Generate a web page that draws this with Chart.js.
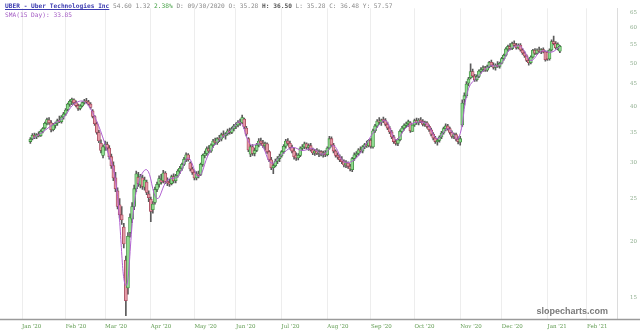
<!DOCTYPE html>
<html>
<head>
<meta charset="utf-8">
<script src="https://cdn.jsdelivr.net/npm/chart.js@4.4.1/dist/chart.umd.min.js"></script>
<style>
  html, body { margin: 0; padding: 0; background: #fff; }
  #wrap { position: relative; width: 640px; height: 334px; }
  #hdr { position: absolute; left: 5px; top: 1px; font: 6.2px "DejaVu Sans Mono", monospace; color: #8a8a8a; line-height: 9px; white-space: pre; }
  #hdr .sym { color: #3b3bb0; font-weight: bold; text-decoration: underline; }
  #hdr .up { color: #44a044; }
  #hdr b { color: #555; }
  #hdr .sma { color: #a45cc4; }
  #mark { position: absolute; right: 32px; top: 306px; font: bold 9px "Liberation Sans", sans-serif; color: #7a7a7a; }
</style>
</head>
<body>
<div id="wrap">
  <canvas id="c" width="640" height="334"></canvas>
  <div id="hdr"><span class="sym">UBER - Uber Technologies Inc</span> 54.60 1.32 <span class="up">2.38%</span> D: 09/30/2020 O: 35.28 <b>H: 36.50</b> L: 35.28 C: 36.48 Y: 57.57
<span class="sma">SMA(15 Day): 33.85</span></div>
  <div id="mark">slopecharts.com</div>
</div>
<script>
// trading calendar: Jan 2 2020 .. Feb 22 2021
const holidays = ['2020-01-20','2020-02-17','2020-04-10','2020-05-25','2020-07-03','2020-09-07',
  '2020-11-26','2020-12-25','2021-01-01','2021-01-18','2021-02-15'];
const firstDay = '2020-01-02', lastDay = '2021-02-22';
const firstBar = '2020-01-08';   // first candle on the chart
const monthNames = ['Jan','Feb','Mar','Apr','May','Jun','Jul','Aug','Sep','Oct','Nov','Dec'];
const yTicks = [15, 20, 25, 30, 35, 40, 45, 50, 55, 60, 65];

// daily OHLC, one row per month (Jan 8 2020 .. Jan 12 2021)
const opens = [
  33.5,34.0,34.6,34.3,34.7,34.5,35.3,35.9,36.8,37.4,36.9,35.6,36.4,36.8,37.3,37.1,38.0,
  38.6,39.5,40.6,41.2,41.5,40.9,40.3,39.7,40.2,40.9,41.3,41.1,40.6,39.2,38.1,36.7,35.1,33.2,31.2,
  32.6,33.0,32.4,31.0,29.6,27.8,26.0,24.2,23.0,21.6,18.2,15.8,21.0,22.5,24.0,26.3,27.9,26.8,27.8,26.5,27.2,25.6,
  24.9,23.6,24.5,26.2,26.9,27.5,27.4,28.5,27.3,27.1,27.0,28.0,27.4,28.1,28.8,29.2,29.8,30.6,31.3,30.0,29.1,
  28.6,27.8,28.4,28.3,29.8,31.2,31.5,32.3,31.9,32.9,33.6,33.3,34.0,33.9,34.7,34.5,34.9,35.4,35.1,35.8,
  36.3,36.5,37.0,36.9,37.6,35.9,34.0,31.4,32.6,31.5,32.0,32.9,33.6,33.2,32.8,33.1,31.8,30.5,29.3,29.6,30.3,30.7,
  31.1,31.8,32.7,33.6,33.2,32.5,31.9,31.2,30.8,31.2,32.4,32.6,33.1,32.5,32.8,32.1,31.6,31.9,31.5,31.8,31.4,31.6,
  31.3,32.4,34.0,32.9,31.9,31.2,30.9,30.5,30.2,29.7,30.0,29.5,29.0,30.7,31.3,31.5,32.1,31.9,32.6,33.0,32.8,
  33.7,32.6,35.4,36.3,37.2,37.0,37.4,37.3,36.6,35.9,35.2,34.3,33.5,33.2,33.8,35.3,35.9,36.4,36.7,36.9,35.28,
  36.5,37.3,36.9,37.4,37.1,36.6,36.9,36.2,35.6,34.8,34.1,33.5,33.7,34.3,35.0,35.8,36.3,35.8,35.1,34.4,34.7,33.9,
  33.4,36.5,41.6,42.4,45.2,46.5,48.0,46.9,46.0,46.8,48.1,48.5,48.9,48.3,49.2,50.3,49.6,49.0,49.6,49.3,
  50.1,51.3,52.2,53.9,54.6,54.0,55.4,54.9,54.2,55.0,53.6,52.8,52.0,50.8,50.2,51.7,53.5,52.7,53.6,53.2,53.7,53.1,
  53.0,51.2,53.6,56.0,55.4,54.2,53.3
];
const highs = [
  34.2,34.9,35.0,34.9,35.2,35.6,36.0,37.0,37.8,37.9,37.3,36.8,37.0,37.6,38.2,38.3,38.9,
  39.7,40.8,41.5,41.9,41.7,41.3,40.6,40.5,41.1,41.6,41.8,41.4,40.9,39.5,38.3,37.0,35.5,33.8,32.9,
  33.6,33.4,32.8,31.4,30.2,28.6,26.4,25.0,24.0,22.0,18.6,21.0,23.1,24.5,26.8,28.8,28.6,28.3,28.2,27.9,27.5,26.0,
  25.2,24.6,26.5,27.2,28.1,28.3,28.9,28.7,27.8,27.6,28.2,28.4,28.3,29.0,29.5,30.0,30.9,31.6,31.5,30.2,29.4,
  28.9,28.7,28.8,30.0,31.4,31.9,32.6,32.8,33.1,33.9,34.1,34.2,34.6,35.0,35.4,35.1,35.7,35.9,36.1,36.6,
  36.9,37.3,37.6,38.4,37.8,36.2,34.2,32.9,33.0,32.4,33.2,34.0,34.1,33.7,33.4,33.3,32.0,30.9,29.9,30.6,31.0,31.4,
  32.0,33.0,33.9,34.0,33.6,32.9,32.4,31.6,31.5,32.6,33.0,33.4,33.3,33.1,33.2,32.4,32.2,32.3,32.1,32.0,31.9,32.0,
  32.6,34.4,34.3,33.2,32.1,31.6,31.3,31.0,30.5,30.4,30.2,29.8,30.9,31.6,31.8,32.3,32.6,32.8,33.2,33.6,33.9,
  34.0,35.7,36.6,37.5,37.9,37.6,38.0,37.7,37.0,36.2,35.5,34.6,33.9,34.0,35.6,36.2,36.7,37.0,37.4,37.1,36.50,
  37.6,37.8,37.7,37.9,37.5,37.2,37.1,36.5,35.9,35.1,34.4,34.0,34.5,35.3,36.1,36.7,36.6,36.1,35.4,35.0,35.0,34.3,
  34.4,41.5,43.0,45.6,46.6,49.9,48.6,47.3,47.2,48.4,49.0,49.4,49.3,49.6,50.6,50.9,50.2,49.9,50.5,50.4,
  51.6,52.5,54.3,55.0,55.4,55.8,56.2,55.5,55.3,55.4,54.0,53.2,52.3,51.4,52.0,53.8,54.0,53.9,54.4,54.0,54.2,53.4,
  53.4,53.9,56.5,57.6,56.0,55.6,54.9
];
const lows = [
  33.2,33.8,34.0,34.0,34.3,34.4,35.0,35.7,36.5,36.6,35.2,35.4,35.9,36.4,36.9,36.8,37.6,
  38.3,39.2,40.1,40.5,40.6,40.0,39.3,39.4,40.0,40.6,40.8,40.4,39.6,37.8,36.4,34.8,33.3,31.6,30.8,
  32.0,32.0,30.6,29.2,27.4,25.9,23.7,22.6,21.9,19.4,13.7,15.3,20.5,22.1,23.6,25.9,26.6,26.4,26.2,26.1,25.5,24.6,
  22.2,23.2,24.3,25.9,26.5,26.9,27.1,27.0,26.7,26.6,26.8,27.1,27.1,27.9,28.4,28.9,29.6,30.2,30.3,28.8,28.3,
  27.5,27.5,27.8,28.1,29.5,30.8,31.2,31.6,31.7,32.5,33.0,33.0,33.5,33.6,34.2,33.9,34.6,34.8,34.9,35.4,
  35.8,36.1,36.4,36.7,35.8,34.5,31.8,31.0,31.2,31.1,31.8,32.6,32.9,32.5,32.1,31.5,30.2,29.0,28.4,29.4,29.9,30.2,
  30.9,31.5,32.4,32.9,32.2,31.6,30.6,30.4,30.5,31.0,32.0,32.3,32.2,32.0,31.9,31.3,31.2,31.3,31.0,31.1,30.9,31.0,
  31.1,32.2,32.6,31.6,30.9,30.6,30.2,29.9,29.4,29.3,29.2,28.8,28.7,30.4,30.9,31.2,31.7,31.6,32.3,32.5,32.6,
  32.4,32.4,35.1,36.0,36.6,36.4,36.9,36.3,35.6,34.9,34.0,33.2,32.9,32.8,33.6,35.0,35.5,36.0,36.2,35.1,35.28,
  36.2,36.6,36.5,36.9,36.3,36.2,35.9,35.3,34.5,33.8,33.2,32.9,33.4,34.0,34.8,35.4,35.5,34.8,34.1,34.0,33.6,33.1,
  32.9,36.2,40.4,42.0,44.6,46.2,46.6,45.6,45.7,46.5,47.6,48.0,48.0,48.0,48.9,49.2,48.6,48.3,49.0,48.8,
  49.9,50.9,51.9,53.3,53.6,53.7,54.5,53.8,53.9,53.3,52.4,51.6,50.5,49.6,49.9,51.4,52.3,52.4,52.9,52.6,52.8,50.6,
  50.8,50.9,53.3,55.0,53.8,53.6,52.9
];
const closes = [
  33.9,34.6,34.3,34.7,34.5,35.3,35.8,36.8,37.5,36.9,35.6,36.5,36.8,37.3,37.1,38.0,38.6,
  39.4,40.6,41.2,41.6,40.9,40.3,39.7,40.2,40.9,41.3,41.1,40.6,39.9,38.1,36.7,35.1,33.6,32.0,32.6,
  33.0,32.4,31.0,29.6,27.8,26.3,24.0,23.0,22.4,19.8,14.8,20.6,22.7,24.0,26.3,28.4,27.0,28.0,26.6,27.5,25.8,25.1,
  23.4,24.3,26.2,26.9,27.7,27.2,28.5,27.3,27.1,26.9,28.0,27.4,28.1,28.8,29.2,29.8,30.6,31.3,30.5,29.1,28.6,
  27.8,28.4,28.1,29.8,31.2,31.5,32.3,31.9,32.9,33.6,33.3,34.0,33.9,34.7,34.5,34.9,35.4,35.1,35.8,36.3,
  36.5,37.0,36.8,37.9,36.1,34.8,32.1,32.6,31.5,32.0,32.9,33.6,33.2,32.8,33.1,31.8,30.5,29.3,29.6,30.3,30.7,31.1,
  31.8,32.7,33.6,33.2,32.5,31.9,31.0,30.8,31.2,32.4,32.6,33.1,32.5,32.8,32.1,31.6,31.9,31.5,31.8,31.4,31.6,31.3,
  32.4,34.0,32.9,31.9,31.2,30.9,30.5,30.2,29.7,30.0,29.5,29.1,30.7,31.3,31.5,32.1,31.9,32.6,33.0,32.8,33.7,
  32.7,35.4,36.3,37.2,37.0,37.4,37.3,36.6,35.9,35.2,34.3,33.5,33.2,33.8,35.3,35.9,36.4,36.7,37.1,35.4,36.48,
  37.3,36.9,37.4,37.1,36.6,36.9,36.2,35.6,34.8,34.1,33.5,33.7,34.3,35.0,35.8,36.3,35.8,35.1,34.4,34.7,33.9,33.5,
  34.0,40.8,42.4,45.0,46.2,48.0,46.9,46.0,46.8,48.1,48.5,48.9,48.3,49.2,50.3,49.6,49.0,49.6,49.3,50.1,
  51.3,52.2,53.9,54.6,54.0,55.4,54.9,54.2,55.0,53.6,52.8,52.0,50.8,50.2,51.7,53.5,52.7,53.6,53.2,53.7,53.1,51.0,
  51.2,53.6,56.0,55.4,54.2,55.2,54.6
];

// purple SMA curve, sampled weekly off the picture
const smaDates = ['2020-01-09','2020-01-16','2020-01-24','2020-01-31','2020-02-07','2020-02-14','2020-02-24',
  '2020-03-02','2020-03-09','2020-03-16','2020-03-23','2020-03-30','2020-04-06','2020-04-14','2020-04-21','2020-04-28',
  '2020-05-05','2020-05-12','2020-05-19','2020-05-27','2020-06-03','2020-06-10','2020-06-17','2020-06-24',
  '2020-07-01','2020-07-09','2020-07-16','2020-07-23','2020-07-30','2020-08-06','2020-08-13','2020-08-20','2020-08-27',
  '2020-09-03','2020-09-11','2020-09-18','2020-09-25','2020-10-02','2020-10-09','2020-10-16','2020-10-23','2020-10-30',
  '2020-11-06','2020-11-13','2020-11-20','2020-11-30','2020-12-07','2020-12-14','2020-12-21','2020-12-29',
  '2021-01-06','2021-01-12'];
const smaVals = [34.0,35.2,36.6,37.9,40.6,41.1,38.0,
  33.0,27.5,16.0,26.0,29.0,25.0,27.5,28.0,30.8,
  28.0,31.5,33.8,35.3,37.0,33.0,33.0,30.0,
  31.3,32.5,32.0,32.3,31.4,32.8,30.2,30.5,32.7,
  35.5,37.3,33.8,36.0,37.0,36.6,34.0,35.8,34.0,
  44.0,47.0,49.3,49.6,53.8,54.6,50.8,53.3,
  53.0,54.6];

function buildDays() {
  const out = [];
  const d = new Date(firstDay + 'T00:00:00Z'), end = new Date(lastDay + 'T00:00:00Z');
  for (; d <= end; d.setUTCDate(d.getUTCDate() + 1)) {
    const wd = d.getUTCDay(), s = d.toISOString().slice(0, 10);
    if (wd === 0 || wd === 6 || holidays.includes(s)) continue;
    out.push(s);
  }
  return out;
}
const days = buildDays();
const start = days.indexOf(firstBar);
const monthStarts = days.map((s, i) => i).filter(i => i === 0 || days[i].slice(5, 7) !== days[i - 1].slice(5, 7));
const monthLabel = s => monthNames[+s.slice(5, 7) - 1] + " '" + s.slice(2, 4);

const bodies = days.map((s, i) => { const k = i - start; return k >= 0 && k < closes.length ? [opens[k], closes[k]] : null; });
const wicks = days.map((s, i) => { const k = i - start; return k >= 0 && k < closes.length ? [lows[k], highs[k]] : null; });
const isUp = days.map((s, i) => { const k = i - start; return k >= 0 && k < closes.length && closes[k] >= opens[k]; });

const yMin = 13.47, yMax = 66.4;

const baseLine = {
  id: 'baseLine',
  afterDraw(c) {
    const g = c.ctx, y = Math.round(c.chartArea.bottom) + 0.5;
    g.save(); g.strokeStyle = '#9a9a9a'; g.lineWidth = 1.5;
    g.beginPath(); g.moveTo(0, y); g.lineTo(640, y); g.stroke(); g.restore();
  }
};

new Chart(document.getElementById('c'), {
  type: 'bar',
  data: {
    labels: days,
    datasets: [
      { type: 'line', data: smaDates.map((d, i) => ({ x: d, y: smaVals[i] })), borderColor: '#b060d0', borderWidth: 1,
        pointRadius: 0, tension: 0.4, fill: false, order: 0 },
      { data: bodies, grouped: false, barThickness: 3, minBarLength: 1, borderWidth: 0.8, borderSkipped: false,
        backgroundColor: isUp.map(u => u ? '#8fdc8f' : '#e69aa6'), borderColor: isUp.map(u => u ? '#3d8a3d' : '#a04458'), order: 1 },
      { data: wicks, grouped: false, barThickness: 1, backgroundColor: '#5a5a5a', order: 2 }
    ]
  },
  options: {
    responsive: false, animation: false,
    layout: { padding: { left: 21, top: 8, right: 0, bottom: 0 } },
    plugins: { legend: { display: false }, tooltip: { enabled: false } },
    scales: {
      x: {
        offset: true,
        grid: { offset: false, color: '#ededed', drawTicks: false },
        border: { display: false },
        ticks: { autoSkip: false, maxRotation: 0, align: 'start', padding: 4, color: '#5e9a4e',
          font: { size: 5.5, family: 'DejaVu Serif' }, callback: v => monthLabel(days[v]) },
        afterBuildTicks: s => { s.ticks = monthStarts.map(i => ({ value: i })); },
        afterFit: s => { s.height = 15; }
      },
      y: {
        type: 'logarithmic', position: 'right', min: yMin, max: yMax,
        grid: { display: false },
        border: { color: '#dcdcdc' },
        ticks: { padding: 5, color: '#8fae8f', font: { size: 5.5, family: 'DejaVu Serif' }, callback: v => v },
        afterBuildTicks: s => { s.ticks = yTicks.map(v => ({ value: v })); },
        afterFit: s => { s.width = 23; }
      }
    }
  },
  plugins: [baseLine]
});
</script>
</body>
</html>
